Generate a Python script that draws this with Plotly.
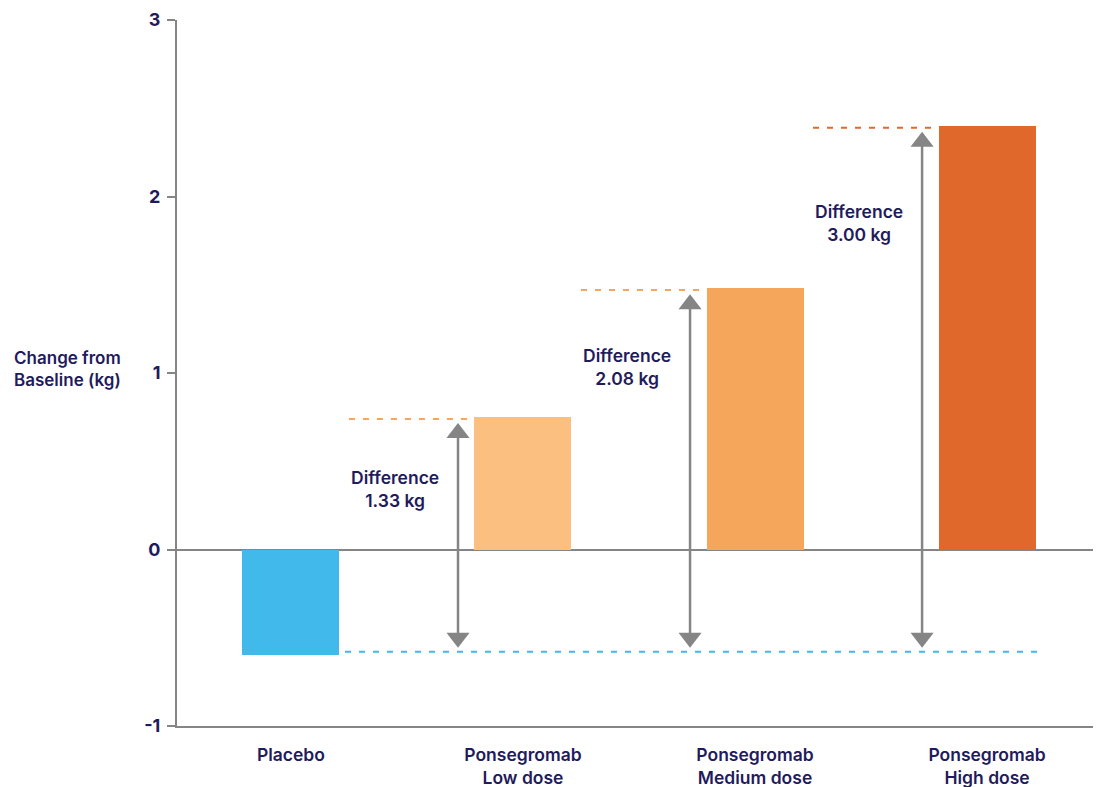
import plotly.graph_objects as go

categories = ["Placebo", "Ponsegromab<br>Low dose", "Ponsegromab<br>Medium dose", "Ponsegromab<br>High dose"]
values = [-0.60, 0.75, 1.48, 2.40]
bar_colors = ["#41b9ea", "#fbc07f", "#f5a65a", "#e0682a"]
differences = ["1.33", "2.08", "3.00"]
y_ticks = [-1, 0, 1, 2, 3]

# layout-only parameters (label placement as fraction of bar height)
label_frac = [0.46, 0.70, 0.77]

NAVY = "#1f1b5c"
GRAY = "#858585"
FONT = "Inter"
DASH = "6px,8px"

x_idx = list(range(len(categories)))

fig = go.Figure()
fig.add_trace(go.Bar(
    x=x_idx, y=values, width=0.418,
    marker=dict(color=bar_colors, line=dict(width=0)),
    showlegend=False, hoverinfo="skip",
))

shapes = []
annotations = []
placebo = values[0]

shapes.append(dict(type="line", xref="x", yref="y",
                   x0=x_idx[0] + 0.233, x1=x_idx[-1] + 0.228,
                   y0=placebo + 0.02, y1=placebo + 0.02,
                   line=dict(color=bar_colors[0], width=2, dash=DASH)))

arrow_x = []
arrow_top = []
arrow_bot = []
for i in range(1, len(categories)):
    v = values[i]
    shapes.append(dict(type="line", xref="x", yref="y",
                       x0=x_idx[i] - 0.75, x1=x_idx[i] - 0.215,
                       y0=v - 0.01, y1=v - 0.01,
                       line=dict(color=bar_colors[i] if i > 1 else "#f5a65a", width=2, dash=DASH)))
    ax = x_idx[i] - 0.28
    top = v - 0.09
    bot = placebo + 0.10
    arrow_x.append(ax)
    arrow_top.append(top)
    arrow_bot.append(bot)
    shapes.append(dict(type="line", xref="x", yref="y",
                       x0=ax, x1=ax, y0=bot, y1=top,
                       line=dict(color=GRAY, width=2.5)))
    annotations.append(dict(
        x=x_idx[i] - 0.55, xref="x",
        y=v * label_frac[i - 1], yref="y",
        text=f"Difference<br>{differences[i-1]} kg",
        showarrow=False, align="center",
        font=dict(family=FONT, size=17.5, color=NAVY, weight=600),
    ))

fig.add_trace(go.Scatter(
    x=arrow_x, y=arrow_top, mode="markers",
    marker=dict(symbol="triangle-up", size=20, color=GRAY, line=dict(width=0)),
    showlegend=False, hoverinfo="skip",
))
fig.add_trace(go.Scatter(
    x=arrow_x, y=arrow_bot, mode="markers",
    marker=dict(symbol="triangle-down", size=20, color=GRAY, line=dict(width=0)),
    showlegend=False, hoverinfo="skip",
))

annotations.append(dict(
    x=(67 - 177) / (1101 - 177), xref="paper", y=1.02, yref="y", yanchor="middle",
    text="Change from<br>Baseline (kg)", showarrow=False, align="center",
    xanchor="center",
    font=dict(family=FONT, size=17, color=NAVY, weight=600),
))

# page has an 8px body margin, so the figure is sized/offset to compensate
fig.update_layout(
    width=1093, height=779,
    margin=dict(l=169, r=0, t=12, b=61),
    paper_bgcolor="white", plot_bgcolor="white",
    shapes=shapes, annotations=annotations,
    bargap=0,
    xaxis=dict(
        range=[-0.491, 3.491],
        tickmode="array", tickvals=x_idx, ticktext=categories,
        showline=True, linecolor=GRAY, linewidth=2,
        ticks="", showgrid=False, zeroline=False,
        tickfont=dict(family=FONT, size=17.5, color=NAVY, weight=600),
        ticklabelstandoff=12,
    ),
    yaxis=dict(
        range=[-1, 3],
        tickmode="array", tickvals=y_ticks, ticktext=[str(t) for t in y_ticks],
        showline=True, linecolor=GRAY, linewidth=2,
        ticks="outside", ticklen=8, tickcolor=GRAY, tickwidth=2,
        showgrid=False, zeroline=True, zerolinecolor=GRAY, zerolinewidth=2,
        tickfont=dict(family=FONT, size=18, color=NAVY, weight=700),
        ticklabelstandoff=3,
    ),
)

fig.write_html("out.html")
